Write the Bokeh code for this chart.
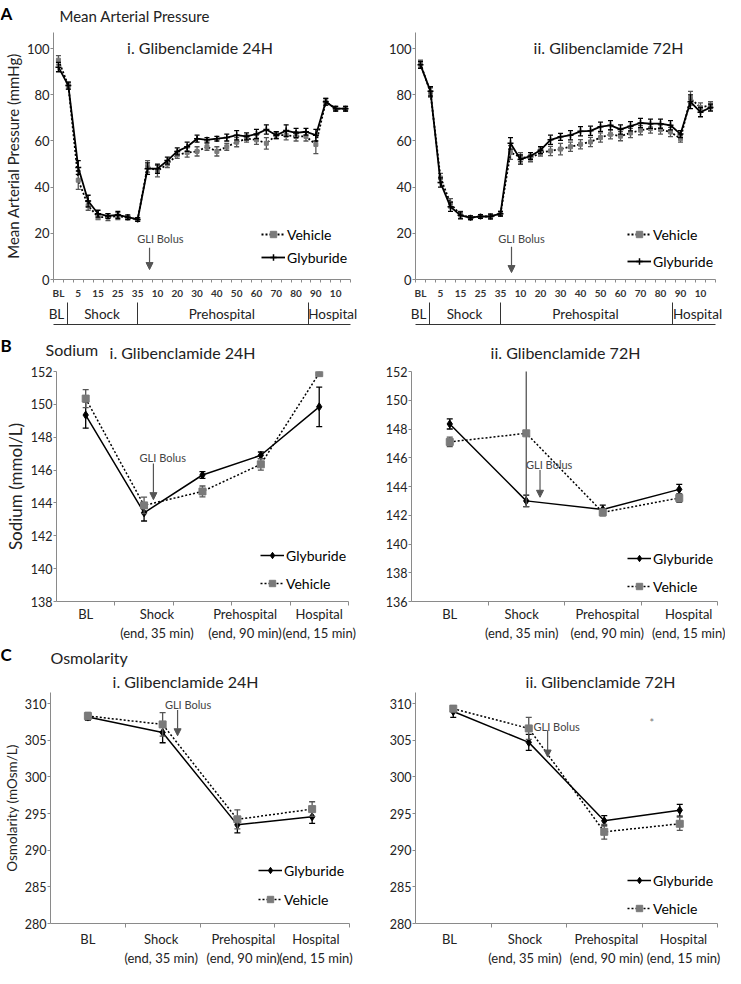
from bokeh.plotting import figure
from bokeh.models import (FixedTicker, LinearAxis, Label, Arrow, NormalHead,
                          Legend, LegendItem, Range1d)
from bokeh.layouts import column, row
from bokeh.embed import file_html
from bokeh.resources import INLINE

# ------------------------------------------------------------------ data
map_time_labels = ["BL", "0", "5", "10", "15", "20", "25", "30", "35",
                   "5", "10", "15", "20", "25", "30", "35", "40", "45", "50",
                   "55", "60", "65", "70", "75", "80", "85", "90",
                   "5", "10", "15"]
map_phase_labels = ["BL", "Shock", "Prehospital", "Hospital"]

map24_glyb = [92, 84, 48.5, 34, 28.5, 27.5, 28, 27, 26, 48, 48, 51.5, 55.5, 57.5, 61,
              60.5, 61, 61.5, 62.5, 62, 63, 65, 62.5, 64.5, 63.5, 64, 62.5, 77, 74, 74]
map24_glyb_err = [2, 1.5, 3, 2.5, 1.5, 1, 1.5, 1, 0.8, 2.5, 2, 1.5, 1.5, 2, 1.5,
                  1, 1, 1.5, 2, 1.5, 2, 2, 1.5, 2.5, 2, 1.5, 2.5, 1.5, 1, 1]
map24_veh = [95, 84, 43, 32, 27, 27, 27.5, 26.8, 26, 49, 47, 50, 54, 55, 55.5,
             57.5, 55.5, 57.5, 59.5, 61, 60.5, 59, 62.5, 62.5, 62, 62, 58.5, 77, 74, 74]
map24_veh_err = [2, 1.5, 4, 2, 1, 1.5, 1.5, 0.8, 0.8, 2.5, 2.5, 1.5, 1.5, 2, 2,
                 1.5, 2, 1.5, 2, 1.5, 2, 2.5, 1.5, 2, 2, 2, 4, 1.5, 1, 1]

map72_glyb = [93, 81.5, 42, 31.5, 27.8, 26.8, 27.3, 27.3, 28.5, 59, 52, 53.5, 56, 60.5,
              61.8, 62.5, 64.2, 64.4, 66.2, 66.8, 65, 66.4, 67.8, 67.5, 67.5, 66.8, 63,
              77, 72.5, 74.5]
map72_glyb_err = [1.5, 2, 2, 2, 1.5, 0.8, 0.8, 1, 1, 2.5, 2, 1.5, 1.5, 2, 1.5,
                  2, 2, 2, 2, 2, 2, 2, 2, 2, 2, 2, 1.5, 3, 2, 1.5]
map72_veh = [93.5, 81, 44, 33, 28, 26.8, 27.3, 27.3, 28.5, 55, 53, 52.5, 55, 55.7,
             56.5, 57.5, 58.6, 59.6, 61.5, 62.9, 62.1, 63.5, 64.7, 65.4, 65, 63.9, 61,
             78.5, 74.5, 75.5]
map72_veh_err = [1.5, 2, 2, 2, 1.5, 0.8, 0.8, 1, 1, 3, 2, 1.5, 1.5, 2, 2.5,
                 2, 2, 2, 2, 2, 2, 2, 2, 2, 2, 2, 1.5, 3, 2, 1.5]

lab_labels = ["BL", "Shock\n(end, 35 min)", "Prehospital\n(end, 90 min)",
              "Hospital\n(end, 15 min)"]

na24_glyb = [149.35, 143.4, 145.7, 146.9, 149.85]
na24_glyb_err = [0.8, 0.5, 0.2, 0.2, 1.2]
na24_veh = [150.35, 143.85, 144.7, 146.35, 151.9]
na24_veh_err = [0.55, 0.5, 0.33, 0.35, 0.1]

na72_glyb = [148.35, 143.0, 142.4, 143.8]
na72_glyb_err = [0.35, 0.4, 0.3, 0.35]
na72_veh = [147.1, 147.7, 142.2, 143.2]
na72_veh_err = [0.33, 5.1, 0.25, 0.3]

osm24_glyb = [308.15, 306.05, 293.45, 294.55]
osm24_glyb_err = [0.4, 1.4, 1.1, 0.9]
osm24_veh = [308.3, 307.15, 294.2, 295.6]
osm24_veh_err = [0.5, 1.6, 1.3, 1.0]

osm72_glyb = [308.9, 304.7, 294.0, 295.45]
osm72_glyb_err = [0.8, 1.1, 0.7, 0.8]
osm72_veh = [309.3, 306.6, 292.5, 293.6]
osm72_veh_err = [0.4, 1.5, 1.0, 0.9]

# ------------------------------------------------------------------ style
FONT = "Lato"
AX = "#8a8a8a"
TXT = "#222222"
GREY = "#7a7a7a"
ARROW_C = "#555555"
PAGE_W = 725


def make_fig(width, height, bl, br, bt, bb, xr, yr):
    p = figure(width=width, height=height,
               x_range=Range1d(start=xr[0], end=xr[1]),
               y_range=Range1d(start=yr[0], end=yr[1]),
               output_backend="svg", toolbar_location=None,
               min_border_left=bl, min_border_right=br,
               min_border_top=bt, min_border_bottom=bb)
    p.outline_line_color = None
    p.xgrid.visible = False
    p.ygrid.visible = False
    p.background_fill_color = "white"
    p.border_fill_color = "white"
    return p


def strip(h):
    p = figure(width=PAGE_W, height=h, x_range=Range1d(start=0, end=PAGE_W),
               y_range=Range1d(start=h, end=0), output_backend="svg",
               toolbar_location=None, x_axis_type=None, y_axis_type=None,
               min_border_left=0, min_border_right=0, min_border_top=0,
               min_border_bottom=0)
    p.outline_line_color = None
    p.background_fill_color = "white"
    p.border_fill_color = "white"
    return p


def strip_text(p, x, y, text, size, align="left", bold=False, color=TXT):
    p.add_layout(Label(x=x, y=y, text=text, text_font=FONT, text_font_size=size,
                       text_font_style="bold" if bold else "normal",
                       text_color=color, text_align=align, text_baseline="middle"))


def style_y(p, ticks, bounds, label=None, label_size="15px", tick_size="13px"):
    ax = p.yaxis[0]
    ax.ticker = FixedTicker(ticks=ticks)
    ax.bounds = bounds
    ax.axis_line_color = AX
    ax.major_tick_line_color = AX
    ax.major_tick_in = 0
    ax.major_tick_out = 3
    ax.minor_tick_line_color = None
    ax.major_label_standoff = 1
    ax.major_label_text_font = FONT
    ax.major_label_text_font_size = tick_size
    ax.major_label_text_color = TXT
    if label:
        ax.axis_label = label
        ax.axis_label_text_font = FONT
        ax.axis_label_text_font_size = label_size
        ax.axis_label_text_font_style = "normal"
        ax.axis_label_text_color = TXT
        ax.axis_label_standoff = 2


def style_map_x(p, centers, bounds):
    n = len(map_time_labels)
    xb = (-0.5, n - 0.5)
    ax = p.xaxis[0]
    even = list(range(0, n, 2))
    ax.ticker = FixedTicker(ticks=even, minor_ticks=[i - 0.5 for i in range(n + 1)])
    ax.major_label_overrides = {i: map_time_labels[i] for i in even}
    ax.bounds = xb
    ax.axis_line_color = AX
    ax.major_tick_line_color = None
    ax.major_tick_in = 0
    ax.major_tick_out = 0
    ax.minor_tick_line_color = AX
    ax.minor_tick_in = 0
    ax.minor_tick_out = 3
    ax.major_label_standoff = 4
    ax.major_label_text_font = FONT
    ax.major_label_text_font_size = "10px"
    ax.major_label_text_font_style = "bold"
    ax.major_label_text_color = "#333333"

    # phase names row
    ax2 = LinearAxis(ticker=FixedTicker(ticks=centers),
                     major_label_overrides=dict(zip(centers, map_phase_labels)),
                     bounds=xb, axis_line_color=None, major_tick_line_color=None,
                     minor_tick_line_color=None,
                     major_tick_in=0, major_tick_out=0, minor_tick_in=0, minor_tick_out=0,
                     major_label_standoff=4, major_label_text_font=FONT,
                     major_label_text_font_size="13.5px", major_label_text_color=TXT)
    p.add_layout(ax2, "below")
    # bottom rule with the phase separators (ticks drawn upward)
    ax3 = LinearAxis(ticker=FixedTicker(ticks=bounds),
                     major_label_overrides={b: "" for b in bounds},
                     bounds=xb, axis_line_color="#333333", axis_line_width=1,
                     major_tick_line_color="#333333", major_tick_line_width=1,
                     major_tick_in=22, major_tick_out=0,
                     minor_tick_line_color=None, minor_tick_in=0, minor_tick_out=0,
                     major_label_text_font_size="1px", major_label_standoff=0)
    p.add_layout(ax3, "below")


def style_cat_x(p, ncat, label_pos, standoff):
    ax = p.xaxis[0]
    ax.ticker = FixedTicker(ticks=label_pos, minor_ticks=[i + 0.5 for i in range(ncat)])
    ax.major_label_overrides = dict(zip(label_pos, lab_labels))
    ax.bounds = (-0.5, ncat - 0.5)
    ax.axis_line_color = AX
    ax.major_tick_line_color = None
    ax.major_tick_in = 0
    ax.major_tick_out = 0
    ax.minor_tick_line_color = AX
    ax.minor_tick_in = 0
    ax.minor_tick_out = 4
    ax.major_label_standoff = standoff
    ax.major_label_text_font = FONT
    ax.major_label_text_font_size = "13px"
    ax.major_label_text_color = TXT


def add_series(p, ys, errs, kind, marker, msize, cap, lw):
    xs = list(range(len(ys)))
    lo = [y - e for y, e in zip(ys, errs)]
    hi = [y + e for y, e in zip(ys, errs)]
    if kind == "veh":
        mc, ec, dash = GREY, "#555555", "2 2"
    else:
        mc, ec, dash = "black", "black", "solid"
    p.segment(x0=xs, y0=lo, x1=xs, y1=hi, line_color=ec, line_width=1.3)
    p.scatter(x=xs + xs, y=lo + hi, marker="dash", size=cap, line_color=ec, line_width=1.3)
    ln = p.line(xs, ys, line_color="black", line_width=lw, line_dash=dash)
    mk = p.scatter(xs, ys, marker=marker, size=msize, fill_color=mc, line_color=mc,
                   line_width=1.5 if marker == "cross" else 1)
    return [ln, mk]


def add_legend(p, items, x, y, spacing):
    leg = Legend(items=[LegendItem(label=l, renderers=r) for l, r in items],
                 location=(x, y), orientation="vertical", spacing=spacing,
                 padding=0, margin=0, border_line_color=None,
                 background_fill_alpha=0, label_text_font=FONT,
                 label_text_font_size="14px", label_text_color="black",
                 glyph_width=24, glyph_height=16, label_height=20, label_standoff=2)
    p.add_layout(leg, "center")


def data_text(p, x, y, text, size, color=TXT):
    p.add_layout(Label(x=x, y=y, text=text, text_align="center",
                       text_baseline="middle", text_font=FONT,
                       text_font_size=size, text_color=color))


def gli(p, tx, ty, ax, ay0, ay1):
    data_text(p, tx, ty, "GLI Bolus", "11px", "#444444")
    p.add_layout(Arrow(end=NormalHead(size=7, fill_color=ARROW_C, line_color=ARROW_C),
                       x_start=ax, y_start=ay0, x_end=ax, y_end=ay1,
                       line_color=ARROW_C, line_width=1.2))


# ------------------------------------------------------------------ A: MAP
hA = strip(32)
strip_text(hA, 0, 13, "A", "17px", bold=True, color="black")
strip_text(hA, 59, 15, "Mean Arterial Pressure", "15px")

pa1 = make_fig(360, 296, 49, 8, 0, 49, (-0.5, 29.7), (0, 107))
style_y(pa1, [0, 20, 40, 60, 80, 100], (0, 107), "Mean Arterial Pressure (mmHg)", "15px", "13px")
style_map_x(pa1, [-0.2, 4.4, 16.5, 27.7], [0.9, 8.0, 25.3])
v = add_series(pa1, map24_veh, map24_veh_err, "veh", "square", 4, 5, 1.8)
g = add_series(pa1, map24_glyb, map24_glyb_err, "glyb", "cross", 6, 5, 1.8)
add_legend(pa1, [("Vehicle", v), ("Glyburide", g)], 208, 12, 3)
gli(pa1, 10.3, 17.7, 9.2, 13.8, 4.3)
data_text(pa1, 14.3, 100.4, "i. Glibenclamide 24H", "16px")

pa2 = make_fig(365, 296, 55, 8, 0, 49, (-0.5, 29.7), (0, 107))
style_y(pa2, [0, 20, 40, 60, 80, 100], (0, 107), None, tick_size="13px")
style_map_x(pa2, [-0.2, 4.4, 16.5, 27.7], [0.85, 8.0, 25.2])
v = add_series(pa2, map72_veh, map72_veh_err, "veh", "square", 4, 5, 1.8)
g = add_series(pa2, map72_glyb, map72_glyb_err, "glyb", "cross", 6, 5, 1.8)
add_legend(pa2, [("Vehicle", v), ("Glyburide", g)], 212, 8, 7)
gli(pa2, 10.1, 17.7, 9.1, 14.2, 3.0)
data_text(pa2, 18.8, 100.4, "ii. Glibenclamide 72H", "16px")

# ------------------------------------------------------------------ B: Sodium
hB = strip(34)
strip_text(hB, 0, 17, "B", "17px", bold=True, color="black")
strip_text(hB, 45, 21, "Sodium", "16px")
strip_text(hB, 182, 24, "i. Glibenclamide 24H", "16px", align="center")
strip_text(hB, 565, 24, "ii. Glibenclamide 72H", "16px", align="center")

pb1 = make_fig(360, 281, 56, 8, 8, 41, (-0.5, 4.57), (138, 152))
style_y(pb1, list(range(138, 153, 2)), (138, 152), "Sodium (mmol/L)", "17px", "12.5px")
style_cat_x(pb1, len(na24_glyb), [0, 1.22, 2.73, 4.0], 0)
g = add_series(pb1, na24_glyb, na24_glyb_err, "glyb", "diamond", 8, 6, 1.5)
v = add_series(pb1, na24_veh, na24_veh_err, "veh", "square", 7, 6, 1.5)
add_legend(pb1, [("Glyburide", g), ("Vehicle", v)], 204, 8, 8)
gli(pb1, 1.32, 146.75, 1.16, 146.4, 144.2)

pb2 = make_fig(365, 281, 51, 8, 9, 37, (-0.5, 3.5), (136, 152))
style_y(pb2, list(range(136, 153, 2)), (136, 152), None, tick_size="12.5px")
style_cat_x(pb2, len(na72_glyb), [0, 0.94, 2.06, 3.19], 0)
g = add_series(pb2, na72_glyb, na72_glyb_err, "glyb", "diamond", 8, 6, 1.5)
v = add_series(pb2, na72_veh, na72_veh_err, "veh", "square", 7, 6, 1.5)
add_legend(pb2, [("Glyburide", g), ("Vehicle", v)], 216, 5, 8)
gli(pb2, 1.30, 145.5, 1.18, 145.15, 143.25)

# ------------------------------------------------------------------ C: Osmolarity
hC = strip(49)
strip_text(hC, 0, 11, "C", "17px", bold=True, color="black")
strip_text(hC, 50, 14, "Osmolarity", "16px")
strip_text(hC, 185, 38, "i. Glibenclamide 24H", "16px", align="center")
strip_text(hC, 600, 38, "ii. Glibenclamide 72H", "16px", align="center")

pc1 = make_fig(360, 276, 47, 8, 0, 40, (-0.5, 3.54), (280, 311.5))
style_y(pc1, list(range(280, 311, 5)), (280, 311.5), "Osmolarity (mOsm/L)", "13.5px", "12.5px")
style_cat_x(pc1, len(osm24_glyb), [0, 0.98, 2.08, 3.05], 3)
g = add_series(pc1, osm24_glyb, osm24_glyb_err, "glyb", "diamond", 8, 6, 1.5)
v = add_series(pc1, osm24_veh, osm24_veh_err, "veh", "square", 7, 6, 1.5)
add_legend(pc1, [("Glyburide", g), ("Vehicle", v)], 208, 14, 9)
gli(pc1, 1.34, 309.8, 1.2, 309.1, 305.6)

pc2 = make_fig(365, 276, 55, 8, 0, 40, (-0.5, 3.5), (280, 311.5))
style_y(pc2, list(range(280, 311, 5)), (280, 311.5), None, tick_size="12.5px")
style_cat_x(pc2, len(osm72_glyb), [-0.05, 0.95, 2.03, 3.05], 3)
g = add_series(pc2, osm72_glyb, osm72_glyb_err, "glyb", "diamond", 8, 6, 1.5)
v = add_series(pc2, osm72_veh, osm72_veh_err, "veh", "square", 7, 6, 1.5)
add_legend(pc2, [("Glyburide", g), ("Vehicle", v)], 212, 5, 8)
gli(pc2, 1.37, 306.9, 1.25, 306.35, 302.7)
data_text(pc2, 2.63, 307.45, "*", "11px", "#777777")

layout = column(hA, row(pa1, pa2), hB, row(pb1, pb2), hC, row(pc1, pc2))
open("out.html", "w").write(file_html(layout, INLINE, title="Glibenclamide"))
